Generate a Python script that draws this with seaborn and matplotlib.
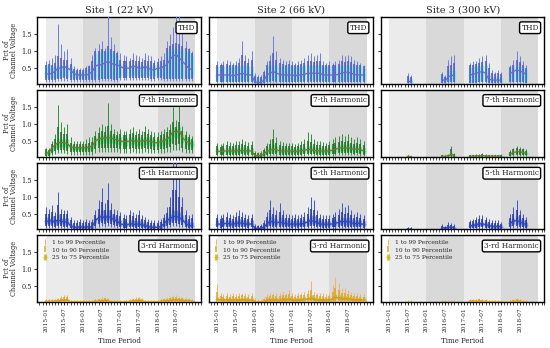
import matplotlib
matplotlib.use("Agg")
import matplotlib.pyplot as plt
import matplotlib.dates as mdates
import numpy as np
import pandas as pd
import seaborn as sns

na = np.nan

months = pd.date_range("2015-01-01", "2018-12-01", freq="MS")
sites = ["Site 1 (22 kV)", "Site 2 (66 kV)", "Site 3 (300 kV)"]
harmonics = ["THD", "7-th Harmonic", "5-th Harmonic", "3-rd Harmonic"]
pct_labels = ["1 to 99 Percentile", "10 to 90 Percentile", "25 to 75 Percentile"]

# monthly percentiles in % of channel voltage, one line per year (2015..2018)
s1_thd = dict(
    p99=[.7, .75, .8, .9, 1.8, 1.2, 1.0, 1.05, .8, .55, .5, .5,
         .5, .55, .6, .9, 1.1, 1.2, 1.3, 1.1, 2.05, 1.4, 1.2, 1.0,
         .95, .9, .85, .8, .95, .9, .85, .8, .95, .9, .85, .75,
         .8, .85, .95, 1.3, 1.5, 1.7, 2.05, 2.05, 1.8, 1.3, 1.1, 1.0],
    p90=[.6, .62, .6, .65, .85, .8, .75, .75, .62, .48, .45, .45,
         .45, .5, .55, .7, 1.0, 1.0, 1.05, 1.0, 1.15, 1.05, 1.0, .95,
         .75, .72, .7, .7, .75, .72, .7, .68, .75, .72, .7, .65,
         .68, .7, .75, 1.1, 1.15, 1.2, 1.25, 1.2, 1.15, 1.1, 1.05, .95],
    p75=[.58, .58, .55, .55, .6, .6, .6, .6, .55, .45, .4, .4,
         .4, .45, .5, .55, .95, .95, 1.0, 1.0, 1.05, 1.0, .95, .9,
         .62, .6, .6, .6, .6, .6, .6, .6, .6, .6, .6, .58,
         .6, .6, .62, 1.0, 1.05, 1.05, 1.05, 1.05, 1.05, 1.0, 1.0, .9],
    p50=[.35, .32, .35, .4, .5, .5, .55, .5, .45, .35, .3, .3,
         .3, .3, .32, .4, .55, .6, .6, .65, .7, .65, .6, .6,
         .55, .5, .5, .5, .55, .55, .5, .5, .55, .5, .45, .45,
         .5, .5, .55, .6, .75, .85, .9, .8, .7, .6, .5, .45],
    p25=[.2, .2, .2, .22, .25, .25, .28, .25, .22, .2, .2, .2,
         .2, .2, .2, .22, .2, .2, .22, .22, .22, .22, .2, .2,
         .28, .28, .28, .28, .3, .3, .28, .28, .3, .28, .26, .26,
         .28, .28, .22, .22, .22, .22, .22, .22, .22, .22, .22, .26],
    p10=[.14, .14, .15, .16, .18, .18, .2, .18, .16, .15, .14, .14,
         .14, .14, .15, .16, .16, .16, .17, .17, .17, .17, .16, .16,
         .2, .2, .2, .2, .22, .22, .2, .2, .22, .2, .19, .19,
         .2, .2, .17, .17, .17, .17, .17, .17, .17, .17, .17, .19],
    p01=[.08, .08, .1, .1, .12, .12, .12, .12, .1, .1, .1, .1,
         .1, .1, .1, .1, .1, .1, .12, .12, .12, .12, .1, .1,
         .14, .14, .14, .14, .15, .15, .14, .14, .15, .14, .13, .13,
         .14, .14, .12, .12, .12, .12, .12, .12, .12, .12, .12, .13],
)
s2_thd = dict(
    p99=[.7, .65, .7, .75, .7, .65, .7, .8, 1.3, .9, .8, 1.0,
         .35, .3, .3, .45, .7, .9, 1.45, 1.0, .8, .75, .7, .75,
         .7, .65, .7, .75, .8, .9, .95, .85, .9, .95, .7, .65,
         .7, .65, .7, .75, .9, .85, .9, .85, .75, .7, .65, .6],
    p90=[.6, .58, .6, .62, .6, .58, .6, .65, .9, .7, .65, .75,
         .28, .25, .25, .38, .6, .7, .95, .75, .65, .62, .6, .62,
         .6, .58, .6, .62, .65, .7, .72, .68, .7, .72, .6, .58,
         .6, .58, .6, .62, .7, .68, .7, .68, .62, .6, .58, .55],
    p75=[.55, .55, .55, .55, .55, .55, .55, .55, .6, .6, .55, .55,
         .22, .2, .2, .3, .55, .6, .6, .6, .55, .55, .55, .55,
         .55, .55, .55, .55, .6, .6, .6, .6, .6, .6, .55, .55,
         .55, .55, .55, .55, .6, .6, .6, .6, .55, .55, .55, .5],
    p50=[.3, .3, .3, .3, .3, .28, .3, .32, .35, .32, .3, .3,
         .1, .08, .08, .15, .3, .35, .4, .35, .32, .3, .3, .3,
         .3, .28, .3, .3, .32, .35, .35, .35, .35, .35, .3, .3,
         .3, .3, .3, .32, .35, .38, .38, .35, .32, .3, .3, .3],
    p25=[.12, .12, .12, .12, .12, .12, .12, .12, .14, .14, .12, .12,
         .06, .05, .05, .08, .12, .14, .15, .14, .12, .12, .12, .12,
         .12, .12, .12, .12, .14, .14, .14, .14, .14, .14, .12, .12,
         .12, .12, .12, .12, .14, .14, .14, .14, .12, .12, .12, .12],
    p10=[.09, .09, .09, .09, .09, .09, .09, .09, .1, .1, .09, .09,
         .05, .04, .04, .06, .09, .1, .11, .1, .09, .09, .09, .09,
         .09, .09, .09, .09, .1, .1, .1, .1, .1, .1, .09, .09,
         .09, .09, .09, .09, .1, .1, .1, .1, .09, .09, .09, .09],
    p01=[.06, .06, .06, .06, .06, .06, .06, .06, .07, .07, .06, .06,
         .03, .03, .03, .04, .06, .07, .07, .07, .06, .06, .06, .06,
         .06, .06, .06, .06, .07, .07, .07, .07, .07, .07, .06, .06,
         .06, .06, .06, .06, .07, .07, .07, .07, .06, .06, .06, .06],
)
s3_thd = dict(
    p99=[na, na, na, na, na, na, .35, .3, na, na, na, na,
         na, na, na, na, na, .4, .3, .75, .85, .9, na, na,
         na, na, .65, .7, .7, .8, .85, .9, .65, .45, .4, .45,
         .4, na, na, .6, .75, 1.0, .85, .7, .6, na, na, na],
    p90=[na, na, na, na, na, na, .28, .25, na, na, na, na,
         na, na, na, na, na, .32, .25, .55, .6, .65, na, na,
         na, na, .6, .6, .62, .65, .68, .7, .5, .35, .32, .35,
         .32, na, na, .52, .6, .75, .68, .6, .5, na, na, na],
    p75=[na, na, na, na, na, na, .2, .18, na, na, na, na,
         na, na, na, na, na, .3, .22, .45, .45, .45, na, na,
         na, na, .52, .55, .55, .55, .58, .58, .3, .25, .25, .25,
         .25, na, na, .5, .55, .55, .55, .5, .45, na, na, na],
    p50=[na, na, na, na, na, na, .12, .1, na, na, na, na,
         na, na, na, na, na, .18, .12, .25, .28, .3, na, na,
         na, na, .3, .32, .35, .38, .4, .35, .18, .15, .15, .15,
         .15, na, na, .35, .4, .45, .42, .38, .32, na, na, na],
    p25=[na, na, na, na, na, na, .08, .07, na, na, na, na,
         na, na, na, na, na, .1, .08, .12, .12, .12, na, na,
         na, na, .1, .1, .1, .12, .12, .12, .1, .08, .08, .08,
         .08, na, na, .12, .12, .12, .12, .12, .1, na, na, na],
    p10=[na, na, na, na, na, na, .06, .05, na, na, na, na,
         na, na, na, na, na, .07, .06, .08, .08, .08, na, na,
         na, na, .07, .07, .07, .08, .08, .08, .07, .06, .06, .06,
         .06, na, na, .08, .08, .08, .08, .08, .07, na, na, na],
    p01=[na, na, na, na, na, na, .04, .04, na, na, na, na,
         na, na, na, na, na, .05, .04, .05, .05, .05, na, na,
         na, na, .05, .05, .05, .05, .05, .05, .05, .04, .04, .04,
         .04, na, na, .05, .05, .05, .05, .05, .05, na, na, na],
)

s1_h7 = dict(
    p99=[.3, .28, .5, .7, 1.55, 1.05, .9, 1.0, .6, .5, .5, .5,
         .5, .55, .6, .6, .8, .9, 1.0, .95, 1.6, 1.0, .85, .8,
         .85, .8, .8, .85, .9, .8, .85, .8, .95, .85, .8, .75,
         .75, .8, .85, .9, 1.0, 1.5, 1.1, 1.55, .95, .8, .7, .65],
    p90=[.25, .24, .4, .55, .9, .75, .7, .7, .45, .4, .4, .4,
         .4, .42, .45, .48, .65, .72, .78, .75, .95, .78, .7, .68,
         .7, .66, .66, .7, .72, .66, .7, .66, .75, .7, .66, .62,
         .62, .66, .7, .75, .82, 1.05, .9, 1.05, .8, .68, .6, .55],
    p75=[.2, .2, .33, .45, .55, .55, .55, .55, .38, .35, .35, .35,
         .35, .36, .38, .4, .6, .65, .68, .68, .7, .68, .65, .62,
         .6, .58, .58, .6, .62, .58, .6, .58, .62, .6, .58, .55,
         .55, .58, .6, .65, .72, .9, .85, .9, .7, .6, .55, .5],
    p50=[.15, .15, .28, .38, .45, .45, .45, .42, .32, .3, .3, .3,
         .3, .3, .32, .35, .5, .55, .58, .58, .6, .58, .55, .52,
         .5, .48, .48, .5, .52, .48, .5, .48, .52, .5, .48, .45,
         .45, .48, .5, .55, .62, .8, .75, .8, .6, .5, .45, .42],
    p25=[.1, .1, .2, .28, .32, .32, .32, .3, .24, .22, .22, .22,
         .22, .22, .24, .26, .38, .42, .44, .44, .45, .44, .42, .4,
         .38, .36, .36, .38, .4, .36, .38, .36, .4, .38, .36, .34,
         .34, .36, .38, .42, .48, .6, .58, .6, .45, .38, .34, .32],
    p10=[.07, .07, .14, .2, .22, .22, .22, .2, .17, .16, .16, .16,
         .16, .16, .17, .18, .26, .3, .3, .3, .3, .3, .28, .28,
         .26, .25, .25, .26, .28, .25, .26, .25, .28, .26, .25, .24,
         .24, .25, .26, .28, .32, .4, .38, .4, .3, .26, .24, .22],
    p01=[.04, .04, .08, .12, .14, .14, .14, .12, .1, .1, .1, .1,
         .1, .1, .1, .1, .15, .18, .18, .18, .18, .18, .16, .16,
         .15, .14, .14, .15, .16, .14, .15, .14, .16, .15, .14, .14,
         .14, .14, .15, .16, .18, .24, .22, .24, .18, .15, .14, .13],
)
s2_h7 = dict(
    p99=[.45, .42, .45, .5, .48, .45, .5, .5, .55, .5, .48, .5,
         .2, .18, .2, .3, .45, .55, .85, .6, .5, .48, .45, .45,
         .45, .42, .45, .5, .55, .75, .7, .55, .5, .5, .48, .45,
         .5, .55, .6, .65, .7, .65, .7, .6, .55, .6, .55, .5],
    p90=[.35, .33, .35, .38, .36, .35, .38, .38, .4, .38, .36, .38,
         .15, .14, .15, .22, .35, .4, .55, .45, .38, .36, .35, .35,
         .35, .33, .35, .38, .4, .5, .48, .4, .38, .38, .36, .35,
         .38, .42, .45, .48, .5, .48, .5, .45, .42, .45, .42, .38],
    p75=[.28, .27, .28, .3, .29, .28, .3, .3, .32, .3, .29, .3,
         .11, .1, .11, .17, .28, .32, .4, .35, .3, .29, .28, .28,
         .28, .27, .28, .3, .32, .36, .36, .32, .3, .3, .29, .28,
         .3, .33, .36, .38, .4, .38, .4, .36, .34, .36, .33, .3],
    p50=[.2, .19, .2, .21, .2, .2, .21, .21, .22, .21, .2, .21,
         .07, .06, .07, .12, .2, .22, .26, .24, .21, .2, .2, .2,
         .2, .19, .2, .21, .22, .25, .25, .22, .21, .21, .2, .2,
         .21, .23, .26, .28, .3, .28, .3, .27, .25, .26, .24, .21],
    p25=[.14, .13, .14, .15, .14, .14, .15, .15, .15, .15, .14, .15,
         .05, .04, .05, .08, .14, .15, .18, .17, .15, .14, .14, .14,
         .14, .13, .14, .15, .15, .17, .17, .15, .15, .15, .14, .14,
         .15, .16, .18, .2, .21, .2, .21, .19, .18, .18, .17, .15],
    p10=[.1, .09, .1, .1, .1, .1, .1, .1, .11, .1, .1, .1,
         .03, .03, .03, .05, .1, .11, .12, .12, .1, .1, .1, .1,
         .1, .09, .1, .1, .11, .12, .12, .11, .1, .1, .1, .1,
         .1, .11, .12, .14, .15, .14, .15, .13, .12, .13, .12, .1],
    p01=[.06, .06, .06, .06, .06, .06, .06, .06, .07, .06, .06, .06,
         .02, .02, .02, .03, .06, .07, .08, .07, .06, .06, .06, .06,
         .06, .06, .06, .06, .07, .08, .08, .07, .06, .06, .06, .06,
         .06, .07, .08, .09, .1, .09, .1, .08, .08, .08, .07, .06],
)
s3_h7 = dict(
    p99=[na, na, na, na, na, na, .08, .07, na, na, na, na,
         na, na, na, na, na, .1, .08, .12, .35, .15, na, na,
         na, na, .1, .1, .12, .12, .14, .12, .1, .1, .1, .1,
         .12, na, na, .22, .3, .35, .32, .3, .25, na, na, na],
    p90=[na, na, na, na, na, na, .07, .06, na, na, na, na,
         na, na, na, na, na, .08, .07, .1, .25, .12, na, na,
         na, na, .08, .08, .1, .1, .12, .1, .08, .08, .08, .08,
         .1, na, na, .18, .25, .28, .27, .25, .2, na, na, na],
    p75=[na, na, na, na, na, na, .06, .05, na, na, na, na,
         na, na, na, na, na, .07, .06, .08, .15, .1, na, na,
         na, na, .07, .07, .08, .08, .1, .08, .07, .07, .07, .07,
         .08, na, na, .15, .2, .22, .22, .2, .16, na, na, na],
    p50=[na, na, na, na, na, na, .05, .04, na, na, na, na,
         na, na, na, na, na, .05, .05, .06, .1, .07, na, na,
         na, na, .05, .05, .06, .06, .07, .06, .05, .05, .05, .05,
         .06, na, na, .12, .16, .18, .18, .16, .13, na, na, na],
    p25=[na, na, na, na, na, na, .04, .03, na, na, na, na,
         na, na, na, na, na, .04, .04, .05, .07, .05, na, na,
         na, na, .04, .04, .05, .05, .05, .05, .04, .04, .04, .04,
         .05, na, na, .09, .12, .14, .14, .12, .1, na, na, na],
    p10=[na, na, na, na, na, na, .03, .03, na, na, na, na,
         na, na, na, na, na, .03, .03, .04, .05, .04, na, na,
         na, na, .03, .03, .04, .04, .04, .04, .03, .03, .03, .03,
         .04, na, na, .07, .09, .1, .1, .09, .08, na, na, na],
    p01=[na, na, na, na, na, na, .02, .02, na, na, na, na,
         na, na, na, na, na, .02, .02, .03, .03, .03, na, na,
         na, na, .02, .02, .03, .03, .03, .03, .02, .02, .02, .02,
         .03, na, na, .05, .06, .07, .07, .06, .05, na, na, na],
)

s1_h5 = dict(
    p99=[.7, .65, .75, .55, 1.15, .65, .6, .6, .4, .3, .3, .35,
         .3, .35, .3, .35, .6, .9, 1.25, .8, 1.4, .8, .65, .6,
         .55, .5, .45, .6, .55, .5, .6, .45, .4, .35, .3, .3,
         .3, .35, .5, .7, 1.0, 2.05, 2.05, 1.6, 1.0, .6, .45, .5],
    p90=[.5, .48, .55, .42, .75, .5, .48, .48, .3, .22, .22, .26,
         .22, .26, .22, .26, .45, .65, .85, .6, .9, .6, .5, .46,
         .42, .38, .35, .45, .42, .38, .45, .35, .3, .26, .22, .22,
         .22, .26, .38, .52, .7, 1.2, 1.2, 1.0, .7, .45, .34, .36],
    p75=[.4, .38, .42, .34, .5, .38, .36, .36, .2, .15, .15, .17,
         .15, .17, .15, .17, .38, .5, .6, .5, .6, .5, .42, .38,
         .3, .28, .26, .32, .3, .28, .32, .26, .22, .18, .16, .16,
         .16, .18, .28, .4, .5, .6, .6, .55, .45, .32, .24, .26],
    p50=[.28, .27, .3, .25, .32, .28, .26, .26, .14, .1, .1, .12,
         .1, .12, .1, .12, .3, .38, .42, .38, .42, .38, .32, .28,
         .2, .18, .17, .2, .2, .18, .2, .17, .15, .12, .1, .1,
         .1, .12, .2, .3, .35, .42, .42, .38, .32, .22, .15, .15],
    p25=[.2, .19, .22, .18, .22, .2, .18, .18, .1, .07, .07, .08,
         .07, .08, .07, .08, .22, .28, .3, .28, .3, .28, .24, .2,
         .14, .12, .12, .14, .14, .12, .14, .12, .1, .08, .07, .07,
         .07, .08, .14, .22, .25, .3, .3, .28, .24, .16, .1, .1],
    p10=[.14, .13, .15, .12, .15, .14, .12, .12, .07, .05, .05, .06,
         .05, .06, .05, .06, .15, .2, .22, .2, .22, .2, .17, .14,
         .1, .09, .09, .1, .1, .09, .1, .09, .07, .06, .05, .05,
         .05, .06, .1, .15, .18, .22, .22, .2, .17, .11, .07, .07],
    p01=[.08, .08, .09, .07, .09, .08, .07, .07, .04, .03, .03, .04,
         .03, .04, .03, .04, .09, .12, .14, .12, .14, .12, .1, .08,
         .06, .05, .05, .06, .06, .05, .06, .05, .04, .04, .03, .03,
         .03, .04, .06, .09, .1, .14, .14, .12, .1, .07, .04, .04],
)
s2_h5 = dict(
    p99=[.5, .45, .5, .55, .5, .45, .55, .6, .55, .5, .45, .5,
         .2, .18, .2, .3, .55, .9, .7, .6, .8, .6, .5, .5,
         .45, .5, .45, .5, .55, .7, 1.0, .9, .6, .5, .45, .45,
         .45, .5, .55, .65, .8, .7, .75, .6, .5, .55, .5, .45],
    p90=[.38, .35, .38, .4, .38, .35, .4, .42, .4, .38, .35, .38,
         .15, .14, .15, .22, .4, .6, .5, .45, .55, .45, .38, .38,
         .35, .38, .35, .38, .4, .5, .65, .6, .45, .38, .35, .35,
         .35, .38, .4, .45, .55, .5, .52, .45, .38, .4, .38, .35],
    p75=[.3, .28, .3, .32, .3, .28, .32, .33, .32, .3, .28, .3,
         .11, .1, .11, .17, .3, .42, .38, .35, .4, .35, .3, .3,
         .28, .3, .28, .3, .32, .38, .45, .42, .35, .3, .28, .28,
         .28, .3, .32, .35, .4, .38, .4, .35, .3, .32, .3, .28],
    p50=[.2, .19, .2, .22, .2, .19, .22, .23, .22, .2, .19, .2,
         .07, .06, .07, .12, .2, .28, .25, .23, .26, .23, .2, .2,
         .19, .2, .19, .2, .22, .26, .3, .28, .24, .2, .19, .19,
         .19, .2, .22, .24, .28, .26, .27, .24, .2, .22, .2, .19],
    p25=[.14, .13, .14, .15, .14, .13, .15, .16, .15, .14, .13, .14,
         .05, .04, .05, .08, .14, .19, .17, .16, .18, .16, .14, .14,
         .13, .14, .13, .14, .15, .18, .2, .19, .16, .14, .13, .13,
         .13, .14, .15, .16, .19, .18, .18, .16, .14, .15, .14, .13],
    p10=[.1, .09, .1, .1, .1, .09, .1, .11, .1, .1, .09, .1,
         .03, .03, .03, .05, .1, .13, .12, .11, .12, .11, .1, .1,
         .09, .1, .09, .1, .1, .12, .14, .13, .11, .1, .09, .09,
         .09, .1, .1, .11, .13, .12, .12, .11, .1, .1, .1, .09],
    p01=[.06, .06, .06, .06, .06, .06, .06, .07, .06, .06, .06, .06,
         .02, .02, .02, .03, .06, .08, .07, .07, .08, .07, .06, .06,
         .06, .06, .06, .06, .06, .07, .08, .08, .07, .06, .06, .06,
         .06, .06, .06, .07, .08, .07, .07, .07, .06, .06, .06, .06],
)
s3_h5 = dict(
    p99=[na, na, na, na, na, na, .12, .1, na, na, na, na,
         na, na, na, na, na, .2, .15, .25, .22, .2, na, na,
         na, na, .3, .35, .4, .45, .45, .4, .35, .3, .3, .3,
         .25, na, na, .5, .7, .9, .6, .5, .4, na, na, na],
    p90=[na, na, na, na, na, na, .09, .08, na, na, na, na,
         na, na, na, na, na, .15, .12, .18, .17, .15, na, na,
         na, na, .24, .27, .3, .33, .33, .3, .26, .23, .23, .23,
         .2, na, na, .38, .5, .6, .45, .38, .3, na, na, na],
    p75=[na, na, na, na, na, na, .07, .06, na, na, na, na,
         na, na, na, na, na, .12, .1, .14, .13, .12, na, na,
         na, na, .2, .22, .24, .26, .26, .24, .2, .18, .18, .18,
         .16, na, na, .3, .38, .42, .35, .3, .24, na, na, na],
    p50=[na, na, na, na, na, na, .05, .05, na, na, na, na,
         na, na, na, na, na, .09, .08, .1, .1, .09, na, na,
         na, na, .14, .16, .18, .2, .2, .18, .15, .13, .13, .13,
         .12, na, na, .22, .28, .3, .26, .22, .18, na, na, na],
    p25=[na, na, na, na, na, na, .04, .04, na, na, na, na,
         na, na, na, na, na, .06, .05, .07, .07, .06, na, na,
         na, na, .1, .11, .12, .14, .14, .12, .1, .09, .09, .09,
         .08, na, na, .15, .2, .2, .18, .15, .12, na, na, na],
    p10=[na, na, na, na, na, na, .03, .03, na, na, na, na,
         na, na, na, na, na, .04, .04, .05, .05, .04, na, na,
         na, na, .07, .08, .08, .1, .1, .08, .07, .06, .06, .06,
         .06, na, na, .1, .14, .14, .12, .1, .08, na, na, na],
    p01=[na, na, na, na, na, na, .02, .02, na, na, na, na,
         na, na, na, na, na, .03, .03, .03, .03, .03, na, na,
         na, na, .04, .05, .05, .06, .06, .05, .04, .04, .04, .04,
         .04, na, na, .06, .08, .08, .07, .06, .05, na, na, na],
)

s1_h3 = dict(
    p99=[.12, .12, .13, .14, .15, .22, .24, .25, .1, .08, .08, .08,
         .08, .08, .08, .1, .12, .15, .18, .2, .16, .1, .08, .08,
         .08, .08, .1, .12, .15, .18, .2, .15, .1, .08, .08, .08,
         .1, .12, .15, .18, .22, .25, .25, .22, .2, .18, .15, .12],
    p90=[.1, .1, .1, .11, .12, .16, .18, .18, .08, .07, .07, .07,
         .07, .07, .07, .08, .1, .12, .14, .15, .12, .08, .07, .07,
         .07, .07, .08, .1, .12, .14, .15, .12, .08, .07, .07, .07,
         .08, .1, .12, .14, .16, .18, .18, .16, .15, .14, .12, .1],
    p75=[.08, .08, .08, .09, .1, .12, .14, .14, .07, .06, .06, .06,
         .06, .06, .06, .07, .08, .1, .11, .12, .1, .07, .06, .06,
         .06, .06, .07, .08, .1, .11, .12, .1, .07, .06, .06, .06,
         .07, .08, .1, .11, .13, .14, .14, .13, .12, .11, .1, .08],
    p50=[.06, .06, .06, .07, .07, .09, .1, .1, .05, .05, .05, .05,
         .05, .05, .05, .05, .06, .07, .08, .09, .07, .05, .05, .05,
         .05, .05, .05, .06, .07, .08, .09, .07, .05, .05, .05, .05,
         .05, .06, .07, .08, .1, .11, .11, .1, .09, .08, .07, .06],
    p25=[.05, .05, .05, .05, .05, .07, .07, .07, .04, .04, .04, .04,
         .04, .04, .04, .04, .05, .05, .06, .07, .05, .04, .04, .04,
         .04, .04, .04, .05, .05, .06, .07, .05, .04, .04, .04, .04,
         .04, .05, .05, .06, .07, .08, .08, .07, .07, .06, .05, .05],
    p10=[.04, .04, .04, .04, .04, .05, .05, .05, .03, .03, .03, .03,
         .03, .03, .03, .03, .04, .04, .04, .05, .04, .03, .03, .03,
         .03, .03, .03, .04, .04, .04, .05, .04, .03, .03, .03, .03,
         .03, .04, .04, .04, .05, .06, .06, .05, .05, .04, .04, .04],
    p01=[.03, .03, .03, .03, .03, .04, .04, .04, .02, .02, .02, .02,
         .02, .02, .02, .02, .03, .03, .03, .04, .03, .02, .02, .02,
         .02, .02, .02, .03, .03, .03, .04, .03, .02, .02, .02, .02,
         .02, .03, .03, .03, .04, .04, .04, .04, .04, .03, .03, .03],
)
s2_h3 = dict(
    p99=[.58, .3, .28, .3, .28, .3, .28, .3, .32, .3, .28, .3,
         .15, .12, .12, .2, .28, .3, .32, .3, .3, .35, .32, .4,
         .3, .28, .3, .32, .35, .4, .67, .35, .32, .3, .3, .28,
         .3, .55, .77, .6, .45, .45, .4, .35, .3, .3, .28, .28],
    p90=[.35, .22, .2, .22, .2, .22, .2, .22, .24, .22, .2, .22,
         .1, .08, .08, .14, .2, .22, .24, .22, .22, .26, .24, .28,
         .22, .2, .22, .24, .26, .28, .4, .26, .24, .22, .22, .2,
         .22, .35, .45, .38, .32, .32, .28, .26, .22, .22, .2, .2],
    p75=[.2, .16, .15, .16, .15, .16, .15, .16, .17, .16, .15, .16,
         .07, .06, .06, .1, .15, .16, .17, .16, .16, .18, .17, .2,
         .16, .15, .16, .17, .18, .2, .25, .18, .17, .16, .16, .15,
         .16, .22, .28, .25, .22, .22, .2, .18, .16, .16, .15, .15],
    p50=[.12, .1, .1, .1, .1, .1, .1, .1, .11, .1, .1, .1,
         .05, .04, .04, .07, .1, .1, .11, .1, .1, .12, .11, .13,
         .1, .1, .1, .11, .12, .13, .15, .12, .11, .1, .1, .1,
         .1, .14, .18, .16, .14, .14, .13, .12, .1, .1, .1, .1],
    p25=[.08, .07, .07, .07, .07, .07, .07, .07, .08, .07, .07, .07,
         .03, .03, .03, .05, .07, .07, .08, .07, .07, .08, .08, .09,
         .07, .07, .07, .08, .08, .09, .1, .08, .08, .07, .07, .07,
         .07, .1, .12, .11, .1, .1, .09, .08, .07, .07, .07, .07],
    p10=[.06, .05, .05, .05, .05, .05, .05, .05, .06, .05, .05, .05,
         .02, .02, .02, .04, .05, .05, .06, .05, .05, .06, .06, .06,
         .05, .05, .05, .06, .06, .06, .07, .06, .06, .05, .05, .05,
         .05, .07, .08, .08, .07, .07, .06, .06, .05, .05, .05, .05],
    p01=[.04, .03, .03, .03, .03, .03, .03, .03, .04, .03, .03, .03,
         .01, .01, .01, .02, .03, .03, .04, .03, .03, .04, .04, .04,
         .03, .03, .03, .04, .04, .04, .05, .04, .04, .03, .03, .03,
         .03, .05, .06, .05, .05, .05, .04, .04, .03, .03, .03, .03],
)
s3_h3 = dict(
    p99=[na, na, na, na, na, na, .05, .05, na, na, na, na,
         na, na, na, na, na, .06, .05, .06, .06, .06, na, na,
         na, na, .12, .14, .12, .15, .13, .12, .1, .08, .07, .07,
         .07, na, na, .1, .12, .16, .12, .1, .08, na, na, na],
    p90=[na, na, na, na, na, na, .04, .04, na, na, na, na,
         na, na, na, na, na, .05, .04, .05, .05, .05, na, na,
         na, na, .1, .11, .1, .12, .1, .1, .08, .07, .06, .06,
         .06, na, na, .08, .1, .12, .1, .08, .07, na, na, na],
    p75=[na, na, na, na, na, na, .03, .03, na, na, na, na,
         na, na, na, na, na, .04, .03, .04, .04, .04, na, na,
         na, na, .08, .09, .08, .1, .08, .08, .06, .05, .05, .05,
         .05, na, na, .06, .08, .09, .08, .06, .05, na, na, na],
    p50=[na, na, na, na, na, na, .03, .03, na, na, na, na,
         na, na, na, na, na, .03, .03, .03, .03, .03, na, na,
         na, na, .06, .07, .06, .07, .06, .06, .05, .04, .04, .04,
         .04, na, na, .05, .06, .07, .06, .05, .04, na, na, na],
    p25=[na, na, na, na, na, na, .02, .02, na, na, na, na,
         na, na, na, na, na, .02, .02, .02, .02, .02, na, na,
         na, na, .05, .05, .05, .05, .05, .05, .04, .03, .03, .03,
         .03, na, na, .04, .05, .05, .05, .04, .03, na, na, na],
    p10=[na, na, na, na, na, na, .02, .02, na, na, na, na,
         na, na, na, na, na, .02, .02, .02, .02, .02, na, na,
         na, na, .04, .04, .04, .04, .04, .04, .03, .02, .02, .02,
         .02, na, na, .03, .04, .04, .04, .03, .02, na, na, na],
    p01=[na, na, na, na, na, na, .01, .01, na, na, na, na,
         na, na, na, na, na, .01, .01, .01, .01, .01, na, na,
         na, na, .03, .03, .03, .03, .03, .03, .02, .01, .01, .01,
         .01, na, na, .02, .03, .03, .03, .02, .01, na, na, na],
)

grid = [
    [s1_thd, s2_thd, s3_thd],
    [s1_h7, s2_h7, s3_h7],
    [s1_h5, s2_h5, s3_h5],
    [s1_h3, s2_h3, s3_h3],
]

# colours per row: 1-99 whisker, 10-90 whisker, 25-75 band, median line
row_colors = [
    dict(c99="#6b7fe3", c90="#4e58c4", c75="#6ff2dc", line="#7a5fcf"),
    dict(c99="#2f8f3a", c90="#1f6a28", c75="#4cf27c", line="#8a6d34"),
    dict(c99="#3b56d2", c90="#26359c", c75="#6d93ea", line="#2f48b8"),
    dict(c99="#f5b266", c90="#dca624", c75="#c9b81c", line="#d39c14"),
]

years = pd.to_datetime(["2015-01-01", "2016-01-01", "2017-01-01", "2018-01-01", "2019-01-01"])
shades = ["#ebebeb", "#d9d9d9", "#ebebeb", "#d9d9d9"]
major_ticks = pd.date_range("2015-01-01", "2018-07-01", freq="6MS")

sns.set_theme(style="ticks")
plt.rcParams["font.family"] = "DejaVu Serif"
plt.rcParams["axes.edgecolor"] = "black"
plt.rcParams["axes.linewidth"] = 1.0


def draw_panel(ax, d, st, legend):
    for k in range(4):
        ax.axvspan(years[k], years[k + 1], color=shades[k], lw=0, zorder=0)
    p = {k: np.array(v, dtype=float) for k, v in d.items()}
    med = p["p50"]
    labs = pct_labels if legend else ["_nolegend_"] * 3
    ax.errorbar(months, med, yerr=[med - p["p01"], p["p99"] - med], fmt="none",
                ecolor=st["c99"], elinewidth=0.7, zorder=3, label=labs[0])
    ax.errorbar(months, med, yerr=[med - p["p10"], p["p90"] - med], fmt="none",
                ecolor=st["c90"], elinewidth=1.1, zorder=3, label=labs[1])
    ax.errorbar(months, med, yerr=[med - p["p25"], p["p75"] - med], fmt="+",
                color=st["c75"], ecolor=st["c75"], elinewidth=2.3, ms=2.5, mew=0.8,
                alpha=0.8, zorder=2, label=labs[2])
    df = pd.DataFrame({"date": months, "med": med})
    df["seg"] = df["med"].isna().cumsum()
    sns.lineplot(data=df.dropna(), x="date", y="med", units="seg", estimator=None,
                 color=st["line"], lw=0.9, ax=ax, zorder=4, legend=False)
    if legend:
        ax.legend(loc="upper left", frameon=False, fontsize=4.3, handlelength=0.8,
                  handletextpad=0.8, labelspacing=0.35, borderaxespad=0.4)
    elif ax.get_legend() is not None:
        ax.get_legend().remove()


fig, axes = plt.subplots(4, 3, figsize=(5.5, 3.48), dpi=100, sharex=True, sharey=True)
fig.subplots_adjust(left=0.068, right=0.99, top=0.951, bottom=0.132, wspace=0.05, hspace=0.09)

for r in range(4):
    for c in range(3):
        ax = axes[r, c]
        draw_panel(ax, grid[r][c], row_colors[r], legend=(r == 3))
        ax.text(0.965, 0.9, harmonics[r], transform=ax.transAxes, ha="right", va="top",
                fontsize=5.3, zorder=6,
                bbox=dict(boxstyle="round,pad=0.25", fc="white", ec="black", lw=1.0))
        ax.set_xlabel("")
        ax.set_ylabel("")
        if r == 0:
            ax.set_title(sites[c], fontsize=7, pad=3)
        if c == 0:
            ax.set_ylabel("Pct of\nChannel Voltage", fontsize=4.8, labelpad=2, linespacing=0.95)
        if r == 3:
            ax.set_xlabel("Time Period", fontsize=5, labelpad=3)
        ax.tick_params(axis="y", labelsize=4.8, length=2.5, width=0.7, pad=1.5)
        ax.tick_params(axis="x", which="major", labelsize=4.2, length=2.5, width=0.7, pad=1.5,
                       labelrotation=90)
        ax.tick_params(axis="x", which="minor", length=1.8, width=0.6)
        for s in ax.spines.values():
            s.set_color("black")
            s.set_linewidth(1.0)

ax0 = axes[0, 0]
ax0.set_xticks(major_ticks)
ax0.xaxis.set_minor_locator(mdates.MonthLocator())
ax0.xaxis.set_major_formatter(mdates.DateFormatter("%Y-%m"))
ax0.set_xlim(pd.Timestamp("2014-10-12"), pd.Timestamp("2019-03-01"))
ax0.set_ylim(0.04, 2.0)
ax0.set_yticks([0.5, 1.0, 1.5])

fig.savefig("out.png", dpi=100)
